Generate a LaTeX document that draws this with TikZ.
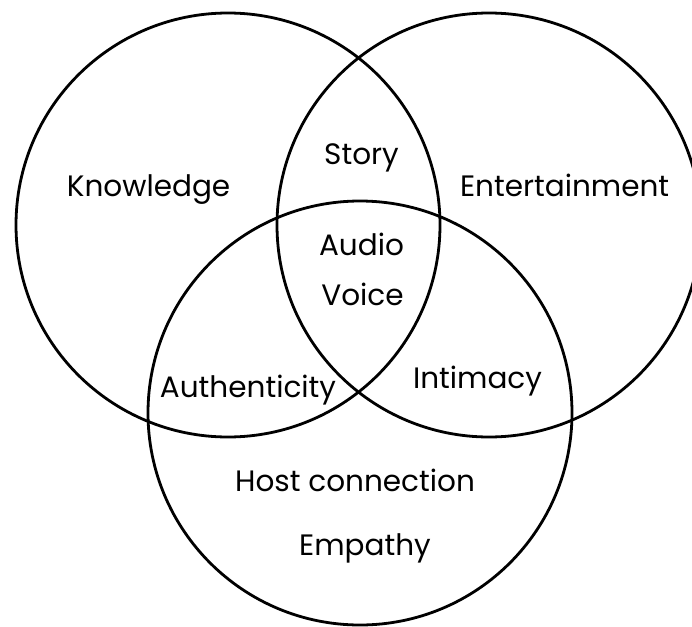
\documentclass[tikz,border=0pt]{standalone}
\usepackage{fontspec}
\setmainfont{Poppins}
\begin{document}
\begin{tikzpicture}[x=1pt,y=-1pt,
  ring/.style={draw=black,line width=2.8pt},
  lbl/.style={anchor=base,inner sep=0pt,font=\fontsize{29.5}{32}\selectfont}]
\useasboundingbox (0,0) rectangle (692,626);
\clip (0,0) rectangle (692,626);
\fill[white] (0,0) rectangle (692,626);
\node[ring,circle,minimum size=424pt,inner sep=0pt] (kn) at (228,225) {};
\node[ring,circle,minimum size=424pt,inner sep=0pt] (en) at (489,225) {};
\node[ring,circle,minimum size=424pt,inner sep=0pt] (em) at (360,413) {};
\node[lbl] (story) at (361.5,164.5) {Story};
\node[lbl] (know) at (148.6,196.4) {Knowledge};
\node[lbl] (ent) at (564.6,196.4) {Entertainment};
\node[lbl] (audio) at (361.5,255.5) {Audio};
\node[lbl] (voice) at (362.5,305) {Voice};
\node[lbl] (auth) at (248,397) {Authenticity};
\node[lbl] (intim) at (477.5,388) {Intimacy};
\node[lbl] (host) at (355,491) {Host connection};
\node[lbl] (empa) at (365,555) {Empathy};
\end{tikzpicture}
\end{document}
